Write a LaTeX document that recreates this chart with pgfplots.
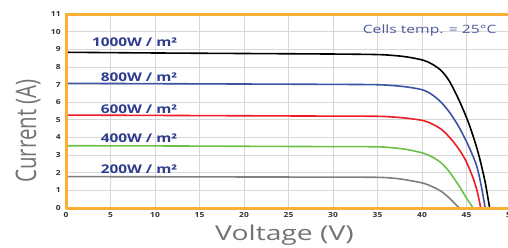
\documentclass[border=0pt]{standalone}
\usepackage{fontspec}
\setmainfont{Open Sans}
\usepackage{pgfplots}
\pgfplotsset{compat=1.18}
\definecolor{frameorange}{RGB}{251,176,52}
\definecolor{lblblue}{RGB}{46,60,142}
\definecolor{cblue}{RGB}{58,85,164}
\definecolor{cred}{RGB}{238,28,37}
\definecolor{cgreen}{RGB}{108,192,74}
\definecolor{cgray}{RGB}{127,127,127}
\definecolor{axgray}{RGB}{115,115,115}
\definecolor{gridgray}{RGB}{215,215,215}
\begin{document}
\begin{tikzpicture}
\begin{axis}[
  scale only axis, width=445pt, height=194pt,
  xmin=0, xmax=50, ymin=0, ymax=11,
  xtick={0,5,...,50}, ytick={0,1,...,11},
  grid=major, major grid style={gridgray, line width=0.8pt},
  axis line style={draw=none},
  major tick length=0pt,
  /pgf/number format/assume math mode=true,
  tick label style={font=\fontsize{7}{8}\selectfont\bfseries, text=black!80, xscale=1.2},
  xticklabel style={yshift=-1pt},
  yticklabel style={xshift=-1pt},
  clip=false,
]
\addplot[black, line width=1.6pt, smooth] coordinates {(0,8.83)(10,8.79)(20,8.76)(30,8.73)(35,8.70)(37,8.64)(38.5,8.55)(40.2,8.37)(41.2,8.14)(42.2,7.77)(43.1,7.17)(44.2,6.07)(45.2,4.87)(46.0,3.67)(46.5,2.77)(47.1,1.45)(47.6,0)};
\addplot[cblue, line width=1.6pt, smooth] coordinates {(0,7.07)(10,7.05)(20,7.03)(30,7.01)(35,6.99)(37,6.93)(38.5,6.85)(40.2,6.68)(41.2,6.4)(42.2,5.97)(43.2,5.35)(44.2,4.55)(45.2,3.55)(46.1,2.45)(46.6,1.4)(47.1,0)};
\addplot[cred, line width=1.6pt, smooth] coordinates {(0,5.27)(10,5.25)(20,5.23)(30,5.21)(35,5.2)(37,5.15)(38.5,5.08)(40.2,4.95)(41.2,4.75)(42.2,4.45)(43.2,3.95)(44.2,3.3)(45.0,2.6)(45.7,1.75)(46.2,0.95)(46.6,0)};
\addplot[cgreen, line width=1.6pt, smooth] coordinates {(0,3.53)(10,3.52)(20,3.5)(30,3.48)(35,3.47)(37,3.4)(38.5,3.3)(40.2,3.1)(41.2,2.88)(42.2,2.54)(43.0,2.1)(43.7,1.6)(44.3,1.15)(44.8,0.72)(45.3,0.33)(45.75,0)};
\addplot[cgray, line width=1.6pt, smooth] coordinates {(0,1.78)(10,1.77)(20,1.76)(30,1.75)(35,1.74)(37,1.68)(38.5,1.57)(40.2,1.4)(41.2,1.2)(42.2,0.93)(43.1,0.55)(43.7,0.25)(44.2,0)};
\draw[frameorange, line width=3pt] (rel axis cs:0,0) -- (rel axis cs:1.01,0);
\draw[frameorange, line width=3pt] (rel axis cs:0,1) -- (rel axis cs:1.01,1);
\draw[frameorange, line width=3pt] (rel axis cs:0,-0.007) -- (rel axis cs:0,1.007);
\node[anchor=base east, font=\fontsize{12}{14}\selectfont\bfseries, text=lblblue, xscale=1.28] at (axis cs:13.0,9.14) {1000W / m²};
\node[anchor=base east, font=\fontsize{12}{14}\selectfont\bfseries, text=lblblue, xscale=1.28] at (axis cs:13.0,7.2) {800W / m²};
\node[anchor=base east, font=\fontsize{12}{14}\selectfont\bfseries, text=lblblue, xscale=1.28] at (axis cs:13.0,5.37) {600W / m²};
\node[anchor=base east, font=\fontsize{12}{14}\selectfont\bfseries, text=lblblue, xscale=1.28] at (axis cs:13.0,3.72) {400W / m²};
\node[anchor=base east, font=\fontsize{12}{14}\selectfont\bfseries, text=lblblue, xscale=1.28] at (axis cs:13.0,1.93) {200W / m²};
\node[anchor=base east, font=\fontsize{11.5}{14}\selectfont, text=lblblue!85, xscale=1.36] at (axis cs:48.9,9.9) {Cells temp. = 25°C};
\end{axis}
\node[font=\fontsize{20.5}{24}\selectfont, text=axgray, xscale=1.38] at (218.5pt,-27pt) {Voltage (V)};
\node[font=\fontsize{20.5}{24}\selectfont, text=axgray, xscale=1.38, rotate=90] at (-38pt,77pt) {Current (A)};
\pgfresetboundingbox
\path[use as bounding box] (-66pt,-39pt) rectangle (442pt,208pt);
\end{tikzpicture}
\end{document}
